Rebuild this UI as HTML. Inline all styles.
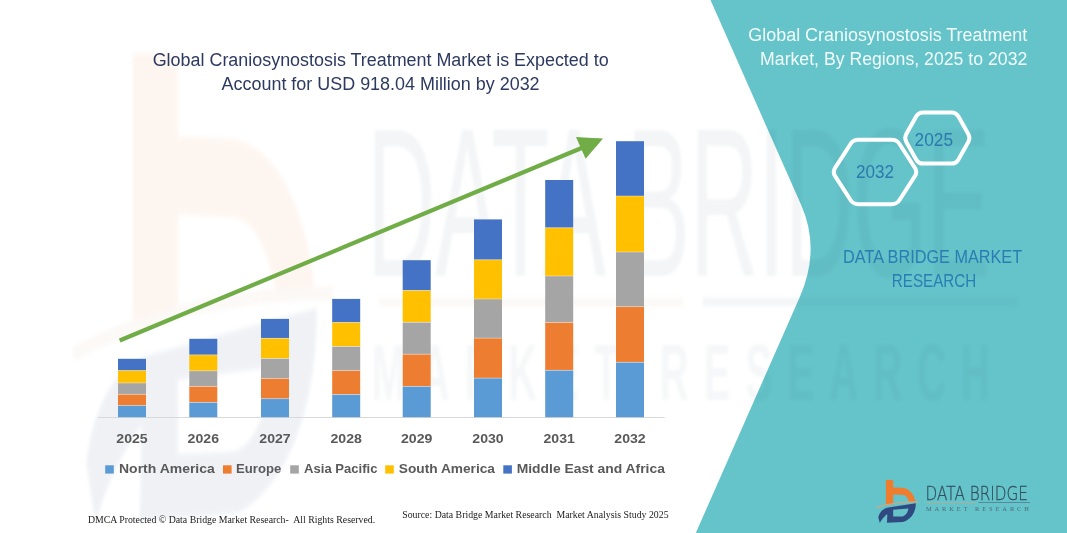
<!DOCTYPE html>
<html>
<head>
<meta charset="utf-8">
<style>
html,body{margin:0;padding:0;background:#fff;overflow:hidden;}
body{width:1067px;height:533px;overflow:hidden;position:relative;}
svg{position:absolute;left:0;top:0;display:block;}
text{font-family:"Liberation Sans",Arial,sans-serif;}
text.serif{font-family:"Liberation Serif","Times New Roman",serif;}
text.thin{font-family:"DejaVu Sans","Liberation Sans",sans-serif;font-weight:200;}
</style>
</head>
<body>
<svg width="1067" height="533" viewBox="0 0 1067 533">
  <!-- teal panel -->
  <path d="M710.5,0 L1067,0 L1067,533 L695.8,533 L799.8,297 Q820.7,249.4 801.2,205 Z" fill="#64C4CA"/>
  <!-- watermark -->
  <defs><filter id="soft2" x="-10%" y="-10%" width="120%" height="120%"><feGaussianBlur stdDeviation="0.25"/></filter></defs>
  <g opacity="0.07" filter="url(#soft2)" transform="matrix(6.14,0,0,10.9,-5306.43,-5176.91)">
    <path d="M885.9,479.9 H893.2 V487.5 L901.5,487.7 C909,488 914.2,494 915.6,502 L909.3,502.2 C907.8,497.5 905.5,494.8 901.5,494.8 L893.2,494.6 V504.3 L885.9,505.2 Z" fill="#F07D2E"/>
    <path d="M876.2,507.4 Q896,501.6 918.5,501.9" fill="none" stroke="#CDA888" stroke-width="1.2"/>
    <path fill-rule="evenodd" fill="#2F4A80" d="M878.3,517.5 C879.5,512 883,508.8 888,507.6 L915.8,503.2 C916,510.5 912.5,519 903,522 L887,522.8 L887.3,514 C884,516.5 881.5,519.5 879.8,523 Z M893.2,509.8 L908.4,508.6 C907.8,512.5 906,515.6 902.5,516.4 L893.2,516.6 Z"/>
    <rect x="925.9" y="502.3" width="49.6" height="0.7" fill="#C7A887"/>
    <rect x="978.7" y="502.3" width="51.3" height="0.7" fill="#50708C"/>
  </g>
  <defs><filter id="soft" x="-5%" y="-5%" width="110%" height="110%"><feGaussianBlur stdDeviation="1.6"/></filter></defs>
  <g opacity="0.06" fill="#3E5466" filter="url(#soft)">
    <text x="367" y="275.7" font-size="212" textLength="623" lengthAdjust="spacingAndGlyphs">DATA BRIDGE</text>
    <text opacity="0.75" transform="translate(372,400) scale(0.5,1)" font-size="80" font-weight="bold" textLength="1236" lengthAdjust="spacing">MARKET RESEARCH</text>
  </g>
  <!-- title -->
  <g fill="#2D3A60" font-size="17.6">
    <text x="152.7" y="65.6" textLength="456" lengthAdjust="spacingAndGlyphs">Global Craniosynostosis Treatment Market is Expected to</text>
    <text x="221.6" y="90" textLength="318" lengthAdjust="spacingAndGlyphs">Account for USD 918.04 Million by 2032</text>
  </g>
  <!-- axis -->
  <rect x="97.7" y="417" width="567" height="1" fill="#D9D9D9"/>
  <!-- bars -->
  <g>
    <rect x="118.0" y="358.8" width="28.0" height="11.8" fill="#4472C4"/>
    <rect x="118.0" y="370.6" width="28.0" height="12.4" fill="#FFC000"/>
    <rect x="118.0" y="383.0" width="28.0" height="11.3" fill="#A5A5A5"/>
    <rect x="118.0" y="394.3" width="28.0" height="11.3" fill="#ED7D31"/>
    <rect x="118.0" y="405.6" width="28.0" height="11.6" fill="#5B9BD5"/>
    <rect x="118.0" y="370.2" width="28.0" height="0.8" fill="#fff" fill-opacity="0.45"/>
    <rect x="118.0" y="382.6" width="28.0" height="0.8" fill="#fff" fill-opacity="0.45"/>
    <rect x="118.0" y="393.9" width="28.0" height="0.8" fill="#fff" fill-opacity="0.45"/>
    <rect x="118.0" y="405.2" width="28.0" height="0.8" fill="#fff" fill-opacity="0.45"/>
    <rect x="189.3" y="338.8" width="28.0" height="16.1" fill="#4472C4"/>
    <rect x="189.3" y="354.9" width="28.0" height="16.0" fill="#FFC000"/>
    <rect x="189.3" y="370.9" width="28.0" height="15.5" fill="#A5A5A5"/>
    <rect x="189.3" y="386.4" width="28.0" height="16.0" fill="#ED7D31"/>
    <rect x="189.3" y="402.4" width="28.0" height="14.8" fill="#5B9BD5"/>
    <rect x="189.3" y="354.5" width="28.0" height="0.8" fill="#fff" fill-opacity="0.45"/>
    <rect x="189.3" y="370.5" width="28.0" height="0.8" fill="#fff" fill-opacity="0.45"/>
    <rect x="189.3" y="386.0" width="28.0" height="0.8" fill="#fff" fill-opacity="0.45"/>
    <rect x="189.3" y="402.0" width="28.0" height="0.8" fill="#fff" fill-opacity="0.45"/>
    <rect x="261.0" y="318.9" width="28.0" height="19.4" fill="#4472C4"/>
    <rect x="261.0" y="338.3" width="28.0" height="20.2" fill="#FFC000"/>
    <rect x="261.0" y="358.5" width="28.0" height="20.0" fill="#A5A5A5"/>
    <rect x="261.0" y="378.5" width="28.0" height="20.2" fill="#ED7D31"/>
    <rect x="261.0" y="398.7" width="28.0" height="18.5" fill="#5B9BD5"/>
    <rect x="261.0" y="337.9" width="28.0" height="0.8" fill="#fff" fill-opacity="0.45"/>
    <rect x="261.0" y="358.1" width="28.0" height="0.8" fill="#fff" fill-opacity="0.45"/>
    <rect x="261.0" y="378.1" width="28.0" height="0.8" fill="#fff" fill-opacity="0.45"/>
    <rect x="261.0" y="398.3" width="28.0" height="0.8" fill="#fff" fill-opacity="0.45"/>
    <rect x="332.2" y="298.9" width="28.0" height="23.6" fill="#4472C4"/>
    <rect x="332.2" y="322.5" width="28.0" height="24.0" fill="#FFC000"/>
    <rect x="332.2" y="346.5" width="28.0" height="24.1" fill="#A5A5A5"/>
    <rect x="332.2" y="370.6" width="28.0" height="23.9" fill="#ED7D31"/>
    <rect x="332.2" y="394.5" width="28.0" height="22.7" fill="#5B9BD5"/>
    <rect x="332.2" y="322.1" width="28.0" height="0.8" fill="#fff" fill-opacity="0.45"/>
    <rect x="332.2" y="346.1" width="28.0" height="0.8" fill="#fff" fill-opacity="0.45"/>
    <rect x="332.2" y="370.2" width="28.0" height="0.8" fill="#fff" fill-opacity="0.45"/>
    <rect x="332.2" y="394.1" width="28.0" height="0.8" fill="#fff" fill-opacity="0.45"/>
    <rect x="402.7" y="260.2" width="28.0" height="30.3" fill="#4472C4"/>
    <rect x="402.7" y="290.5" width="28.0" height="31.8" fill="#FFC000"/>
    <rect x="402.7" y="322.3" width="28.0" height="31.9" fill="#A5A5A5"/>
    <rect x="402.7" y="354.2" width="28.0" height="32.2" fill="#ED7D31"/>
    <rect x="402.7" y="386.4" width="28.0" height="30.8" fill="#5B9BD5"/>
    <rect x="402.7" y="290.1" width="28.0" height="0.8" fill="#fff" fill-opacity="0.45"/>
    <rect x="402.7" y="321.9" width="28.0" height="0.8" fill="#fff" fill-opacity="0.45"/>
    <rect x="402.7" y="353.8" width="28.0" height="0.8" fill="#fff" fill-opacity="0.45"/>
    <rect x="402.7" y="386.0" width="28.0" height="0.8" fill="#fff" fill-opacity="0.45"/>
    <rect x="474.0" y="219.4" width="28.0" height="40.4" fill="#4472C4"/>
    <rect x="474.0" y="259.8" width="28.0" height="39.2" fill="#FFC000"/>
    <rect x="474.0" y="299.0" width="28.0" height="39.1" fill="#A5A5A5"/>
    <rect x="474.0" y="338.1" width="28.0" height="40.0" fill="#ED7D31"/>
    <rect x="474.0" y="378.1" width="28.0" height="39.1" fill="#5B9BD5"/>
    <rect x="474.0" y="259.4" width="28.0" height="0.8" fill="#fff" fill-opacity="0.45"/>
    <rect x="474.0" y="298.6" width="28.0" height="0.8" fill="#fff" fill-opacity="0.45"/>
    <rect x="474.0" y="337.7" width="28.0" height="0.8" fill="#fff" fill-opacity="0.45"/>
    <rect x="474.0" y="377.7" width="28.0" height="0.8" fill="#fff" fill-opacity="0.45"/>
    <rect x="545.2" y="180.0" width="28.0" height="47.8" fill="#4472C4"/>
    <rect x="545.2" y="227.8" width="28.0" height="48.2" fill="#FFC000"/>
    <rect x="545.2" y="276.0" width="28.0" height="46.5" fill="#A5A5A5"/>
    <rect x="545.2" y="322.5" width="28.0" height="47.8" fill="#ED7D31"/>
    <rect x="545.2" y="370.3" width="28.0" height="46.9" fill="#5B9BD5"/>
    <rect x="545.2" y="227.4" width="28.0" height="0.8" fill="#fff" fill-opacity="0.45"/>
    <rect x="545.2" y="275.6" width="28.0" height="0.8" fill="#fff" fill-opacity="0.45"/>
    <rect x="545.2" y="322.1" width="28.0" height="0.8" fill="#fff" fill-opacity="0.45"/>
    <rect x="545.2" y="369.9" width="28.0" height="0.8" fill="#fff" fill-opacity="0.45"/>
    <rect x="616.0" y="141.2" width="28.0" height="54.8" fill="#4472C4"/>
    <rect x="616.0" y="196.0" width="28.0" height="56.0" fill="#FFC000"/>
    <rect x="616.0" y="252.0" width="28.0" height="54.7" fill="#A5A5A5"/>
    <rect x="616.0" y="306.7" width="28.0" height="55.6" fill="#ED7D31"/>
    <rect x="616.0" y="362.3" width="28.0" height="54.9" fill="#5B9BD5"/>
    <rect x="616.0" y="195.6" width="28.0" height="0.8" fill="#fff" fill-opacity="0.45"/>
    <rect x="616.0" y="251.6" width="28.0" height="0.8" fill="#fff" fill-opacity="0.45"/>
    <rect x="616.0" y="306.3" width="28.0" height="0.8" fill="#fff" fill-opacity="0.45"/>
    <rect x="616.0" y="361.9" width="28.0" height="0.8" fill="#fff" fill-opacity="0.45"/>
  </g>
  <!-- arrow -->
  <line x1="119.7" y1="340.5" x2="584" y2="147" stroke="#70AD47" stroke-width="4.2"/>
  <polygon points="603,138.6 576,136.9 585.6,158.8" fill="#70AD47"/>
  <!-- years -->
  <g fill="#595959" font-size="13.6" font-weight="bold" text-anchor="middle">
    <text x="132.0" y="442.8" textLength="31.4" lengthAdjust="spacingAndGlyphs">2025</text>
    <text x="203.3" y="442.8" textLength="31.4" lengthAdjust="spacingAndGlyphs">2026</text>
    <text x="275.0" y="442.8" textLength="31.4" lengthAdjust="spacingAndGlyphs">2027</text>
    <text x="346.2" y="442.8" textLength="31.4" lengthAdjust="spacingAndGlyphs">2028</text>
    <text x="416.7" y="442.8" textLength="31.4" lengthAdjust="spacingAndGlyphs">2029</text>
    <text x="488.0" y="442.8" textLength="31.4" lengthAdjust="spacingAndGlyphs">2030</text>
    <text x="559.2" y="442.8" textLength="31.4" lengthAdjust="spacingAndGlyphs">2031</text>
    <text x="630.0" y="442.8" textLength="31.4" lengthAdjust="spacingAndGlyphs">2032</text>
  </g>
  <!-- legend -->
  <g font-size="13.5" font-weight="bold" fill="#595959">
    <rect x="105.2" y="465.3" width="8.6" height="8.3" fill="#5B9BD5"/>
    <text x="119" y="472.7" textLength="95.8" lengthAdjust="spacingAndGlyphs">North America</text>
    <rect x="223" y="465.3" width="8.6" height="8.3" fill="#ED7D31"/>
    <text x="236.1" y="472.7" textLength="45.2" lengthAdjust="spacingAndGlyphs">Europe</text>
    <rect x="290.2" y="465.3" width="8.6" height="8.3" fill="#A5A5A5"/>
    <text x="304.1" y="472.7" textLength="73.3" lengthAdjust="spacingAndGlyphs">Asia Pacific</text>
    <rect x="385.2" y="465.3" width="8.6" height="8.3" fill="#FFC000"/>
    <text x="398.8" y="472.7" textLength="96.2" lengthAdjust="spacingAndGlyphs">South America</text>
    <rect x="503.3" y="465.3" width="8.6" height="8.3" fill="#4472C4"/>
    <text x="516.7" y="472.7" textLength="148.2" lengthAdjust="spacingAndGlyphs">Middle East and Africa</text>
  </g>
  <!-- footers -->
  <text class="serif" x="87.9" y="522.5" font-size="10.5" fill="#1a1a1a" textLength="287.3" lengthAdjust="spacingAndGlyphs" style="white-space:pre">DMCA Protected © Data Bridge Market Research-  All Rights Reserved.</text>
  <text class="serif" x="402.2" y="518.2" font-size="10.5" fill="#1a1a1a" textLength="266.4" lengthAdjust="spacingAndGlyphs" style="white-space:pre">Source: Data Bridge Market Research  Market Analysis Study 2025</text>
  <!-- right panel title -->
  <g fill="#F2FCFC" font-size="17.6" text-anchor="end">
    <text x="1027.3" y="40.8" textLength="279" lengthAdjust="spacingAndGlyphs">Global Craniosynostosis Treatment</text>
    <text x="1027.3" y="64.9" textLength="267.2" lengthAdjust="spacingAndGlyphs">Market, By Regions, 2025 to 2032</text>
  </g>
  <!-- hexagons -->
  <g fill="none" stroke="#fff" stroke-width="4">
    <path d="M835.11,176.20 Q832.40,172.00 835.11,167.80 L850.49,144.00 Q853.20,139.80 858.20,139.80 L891.80,139.80 Q896.80,139.80 899.51,144.00 L914.89,167.80 Q917.60,172.00 914.89,176.20 L899.51,200.00 Q896.80,204.20 891.80,204.20 L858.20,204.20 Q853.20,204.20 850.49,200.00 Z"/>
    <path d="M906.31,141.92 Q904.10,138.00 906.31,134.08 L916.29,116.32 Q918.50,112.40 923.00,112.40 L951.60,112.40 Q956.10,112.40 958.31,116.32 L968.29,134.08 Q970.50,138.00 968.29,141.92 L958.31,159.68 Q956.10,163.60 951.60,163.60 L923.00,163.60 Q918.50,163.60 916.29,159.68 Z"/>
  </g>
  <g fill="#2A79AF" font-size="17.5" text-anchor="middle">
    <text x="875" y="177.7" textLength="38" lengthAdjust="spacingAndGlyphs">2032</text>
    <text x="933.8" y="146.2" textLength="38.4" lengthAdjust="spacingAndGlyphs">2025</text>
  </g>
  <!-- DBMR text -->
  <g fill="#2A7DB2" font-size="18" text-anchor="middle">
    <text x="932.6" y="262.9" textLength="179" lengthAdjust="spacingAndGlyphs">DATA BRIDGE MARKET</text>
    <text x="934" y="286.5" textLength="84.3" lengthAdjust="spacingAndGlyphs">RESEARCH</text>
  </g>
  <!-- logo -->
  <g>
    <path d="M885.9,479.9 H893.2 V487.5 L901.5,487.7 C909,488 914.2,494 915.6,502 L909.3,502.2 C907.8,497.5 905.5,494.8 901.5,494.8 L893.2,494.6 V504.3 L885.9,505.2 Z" fill="#F07D2E"/>
    <path d="M876.2,507.4 Q896,501.6 918.5,501.9" fill="none" stroke="#CDA888" stroke-width="1.2"/>
    <path fill-rule="evenodd" fill="#2F4A80" d="M878.3,517.5 C879.5,512 883,508.8 888,507.6 L915.8,503.2 C916,510.5 912.5,519 903,522 L887,522.8 L887.3,514 C884,516.5 881.5,519.5 879.8,523 Z M893.2,509.8 L908.4,508.6 C907.8,512.5 906,515.6 902.5,516.4 L893.2,516.6 Z"/>
    <rect x="925.9" y="502.3" width="49.6" height="0.7" fill="#C7A887"/>
    <rect x="978.7" y="502.3" width="51.3" height="0.7" fill="#50708C"/>
    <text x="925.6" y="499.9" font-size="18.6" fill="#34505F" stroke="#34505F" stroke-width="0.3" textLength="102.4" lengthAdjust="spacingAndGlyphs" class="thin">DATA BRIDGE</text>
    <text x="925.9" y="511.4" font-size="6.4" fill="#4F6A78" textLength="103" lengthAdjust="spacing" class="serif">MARKET RESEARCH</text>
  </g>
</svg>
</body>
</html>
